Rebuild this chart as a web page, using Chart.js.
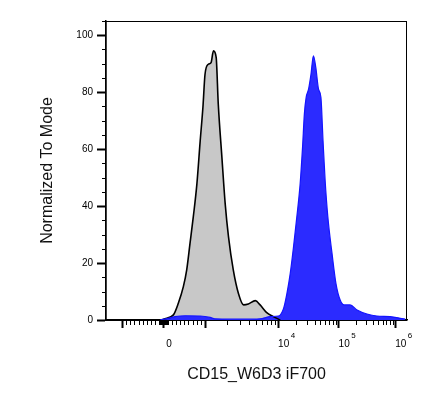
<!DOCTYPE html>
<html>
<head>
<meta charset="utf-8">
<script src="https://cdn.jsdelivr.net/npm/chart.js@4.4.0/dist/chart.umd.min.js"></script>
<style>
  html, body { margin: 0; padding: 0; background: #fff; }
  #wrap { width: 447px; height: 402px; }
</style>
</head>
<body>
<div id="wrap"><canvas id="chart"></canvas></div>
<script>
// x values are display channels (0-1000 across the plot) of the biex axis
const greyX = [185, 191, 224, 240, 257, 268, 279, 290, 302, 313, 322, 329, 340, 349, 357, 366, 373, 385, 396, 407, 423, 440, 457, 473, 496, 512, 534, 556, 579];
const greyY = [0, 0.3, 1.8, 5.8, 11.7, 17.5, 26.8, 36.2, 47.8, 63, 74.7, 86.3, 89.8, 90.4, 94.5, 92.2, 75.8, 57.2, 40.8, 29.2, 17.5, 9.3, 5.3, 5.6, 6.8, 5.3, 2.6, 1.2, 0];

const blueX = [180, 206, 229, 263, 313, 346, 362, 412, 479, 519, 545, 573, 590, 601, 612, 623, 634, 645, 653, 659, 665, 673, 681, 689, 697, 706, 714, 721, 728, 737, 751, 764, 778, 791, 811, 834, 867, 900, 944, 983, 994];
const blueY = [0, 0.6, 1.2, 1.5, 1.4, 0.9, 0.4, 0.3, 0.3, 0.5, 1.2, 1.4, 4.1, 9.3, 16.3, 25.7, 36.2, 47.8, 60.7, 72.3, 78.2, 81.1, 86.3, 92.8, 88.7, 81.1, 78.2, 63, 49, 36.2, 23.3, 12.8, 7, 5.3, 5.3, 3.5, 2.1, 1.4, 1.2, 0.5, 0.3];

// major ticks: -10^3, 0, 10^3, 10^4, 10^5, 10^6
const xMajorTicks = [54, 191, 329, 572, 773, 961];
const xTickLabels = ['', '0', '', '10', '10', '10'];
const xTickExponents = ['', '', '', '4', '5', '6'];
const yMajorTicks = [0, 20, 40, 60, 80, 100];

const xTitle = 'CD15_W6D3 iF700';
const yTitle = 'Normalized To Mode';

// minor ticks: linear part around zero, then log steps inside each decade
const xMinorTicks = [];
const linStep = (xMajorTicks[2] - xMajorTicks[1]) / 1000;
for (let v = 10; v < 1000; v += v < 100 ? 10 : 100) {
  xMinorTicks.push(xMajorTicks[1] + v * linStep, xMajorTicks[1] - v * linStep);
}
for (let i = 2; i < xMajorTicks.length - 1; i++) {
  const a = xMajorTicks[i], b = xMajorTicks[i + 1];
  for (let k = 2; k < 10; k++) xMinorTicks.push(a + Math.log10(k) * (b - a));
}
const yMinorTicks = [];
for (let v = 5; v <= 105; v += 5) if (v % 20) yMinorTicks.push(v);

const fontFamily = '"Liberation Sans", Arial, sans-serif';
const tickFont = { family: fontFamily, size: 10 };
const titleFont = { family: fontFamily, size: 16 };
const labelOffset = 5.5;

const axisFrame = {
  id: 'axisFrame',
  afterDraw(chart) {
    const {ctx, chartArea: a, scales: {x, y}} = chart;
    ctx.save();
    ctx.strokeStyle = '#000';
    ctx.lineWidth = 1;
    ctx.beginPath();
    xMinorTicks.forEach(v => {
      const px = Math.round(x.getPixelForValue(v)) + 0.5;
      ctx.moveTo(px, a.bottom);
      ctx.lineTo(px, a.bottom + 5);
    });
    yMinorTicks.forEach(v => {
      const py = Math.round(y.getPixelForValue(v)) + 0.5;
      ctx.moveTo(a.left, py);
      ctx.lineTo(a.left - 4, py);
    });
    ctx.stroke();
    ctx.strokeRect(a.left, a.top + 0.5, a.right - a.left - 0.5, a.bottom - a.top);

    // decade exponents next to the "10" labels
    ctx.fillStyle = '#000';
    ctx.textBaseline = 'top';
    ctx.textAlign = 'left';
    xMajorTicks.forEach((v, i) => {
      if (!xTickExponents[i]) return;
      ctx.font = '10px ' + fontFamily;
      const w = ctx.measureText(xTickLabels[i]).width;
      const px = x.getPixelForValue(v) + labelOffset + w / 2 + 1.5;
      ctx.font = '8px ' + fontFamily;
      ctx.fillText(xTickExponents[i], px, a.bottom + 12);
    });
    ctx.restore();
  }
};

new Chart(document.getElementById('chart'), {
  type: 'line',
  data: {
    datasets: [
      {
        label: 'CD15_W6D3 iF700',
        data: blueX.map((x, i) => ({ x, y: blueY[i] })),
        borderColor: '#1414ff',
        backgroundColor: '#2b2bff',
        borderWidth: 1.2,
        fill: 'origin'
      },
      {
        label: 'Control',
        data: greyX.map((x, i) => ({ x, y: greyY[i] })),
        borderColor: '#000',
        backgroundColor: '#c8c8c8',
        borderWidth: 1.6,
        fill: 'origin'
      }
    ]
  },
  options: {
    responsive: true,
    maintainAspectRatio: false,
    animation: false,
    layout: { padding: { top: 21, right: 40 } },
    elements: {
      point: { radius: 0 },
      line: { cubicInterpolationMode: 'monotone' }
    },
    plugins: {
      legend: { display: false },
      tooltip: { enabled: false },
      filler: { drawTime: 'beforeDatasetsDraw' }
    },
    scales: {
      x: {
        type: 'linear',
        min: 0,
        max: 1000,
        afterFit: s => { s.height = 82; },
        afterBuildTicks: s => { s.ticks = xMajorTicks.map(v => ({ value: v })); },
        ticks: {
          autoSkip: false,
          maxRotation: 0,
          padding: 10,
          labelOffset: labelOffset,
          color: '#000',
          font: tickFont,
          callback: (v, i) => xTickLabels[i]
        },
        grid: { drawOnChartArea: false, tickLength: 8, tickWidth: 2, tickColor: '#000' },
        border: { color: '#000', width: 1.5 },
        title: { display: true, text: xTitle, color: '#111', font: titleFont, padding: { bottom: 18 } }
      },
      y: {
        min: 0,
        max: 105,
        afterFit: s => { s.width = 106; },
        afterBuildTicks: s => { s.ticks = yMajorTicks.map(v => ({ value: v })); },
        ticks: { padding: 4, color: '#000', font: tickFont },
        grid: { drawOnChartArea: false, tickLength: 9, tickWidth: 2, tickColor: '#000' },
        border: { color: '#000', width: 1.5 },
        title: { display: true, text: yTitle, color: '#111', font: titleFont, padding: { top: 38 } }
      }
    }
  },
  plugins: [axisFrame]
});
</script>
</body>
</html>
